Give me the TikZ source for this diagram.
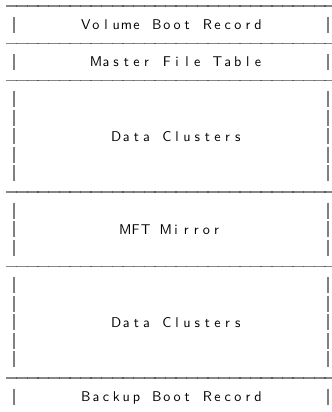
\documentclass[tikz,border=0pt]{standalone}
\usepackage{fontspec}
\newlength\cellw
\setlength\cellw{7.6pt}
% one fixed-width cell per character, ~ stands for a blank cell
\def\monoloop#1{\ifx#1\relax\else\makebox[\cellw][c]{#1}\expandafter\monoloop\fi}
\newcommand\mono[1]{\monoloop#1\relax}
\begin{document}
\begin{tikzpicture}[x=0.75pt,y=-0.75pt,
  sepline/.style={draw=gray!95, line width=1pt},
  sidebar/.style={draw=gray, line width=1.2pt},
  fieldtext/.style={font=\fontsize{10.6}{13}\selectfont\sffamily, text=black, inner sep=0pt, anchor=base}]
  \useasboundingbox (0,0) rectangle (332,412);
  \foreach \r in {0,2,4,10,14,20} { % dashed separator rows
    \draw[sepline] (6,{6+18.6*\r}) -- (332,{6+18.6*\r});
    \foreach \t in {0,...,29} % joins between the dashes
      \fill[gray!70!black] ({16.7+10.63*\t-0.7},{6+18.6*\r-0.65}) rectangle +(1.4,1.3);
  }
  \foreach \r in {1,3,5,6,7,8,9,11,12,13,15,16,17,18,19,21} { % side bars
    \draw[sidebar] (14,{6+18.6*\r-8}) -- +(0,16);
    \draw[sidebar] (328,{6+18.6*\r-8}) -- +(0,16);
  }
  \node[fieldtext] (vbr) at (172,{6+18.6*1+5}) {\mono{Volume~Boot~Record}};
  \node[fieldtext] (mft) at (177,{6+18.6*3+5}) {\mono{Master~File~Table}};
  \node[fieldtext] (data1) at (177,{6+18.6*7+5}) {\mono{Data~Clusters}};
  \node[fieldtext] (mirror) at (171,{6+18.6*12+5}) {\mono{MFT~Mirror}};
  \node[fieldtext] (data2) at (177,{6+18.6*17+5}) {\mono{Data~Clusters}};
  \node[fieldtext] (backup) at (172,{6+18.6*21+5}) {\mono{Backup~Boot~Record}};
\end{tikzpicture}
\end{document}
